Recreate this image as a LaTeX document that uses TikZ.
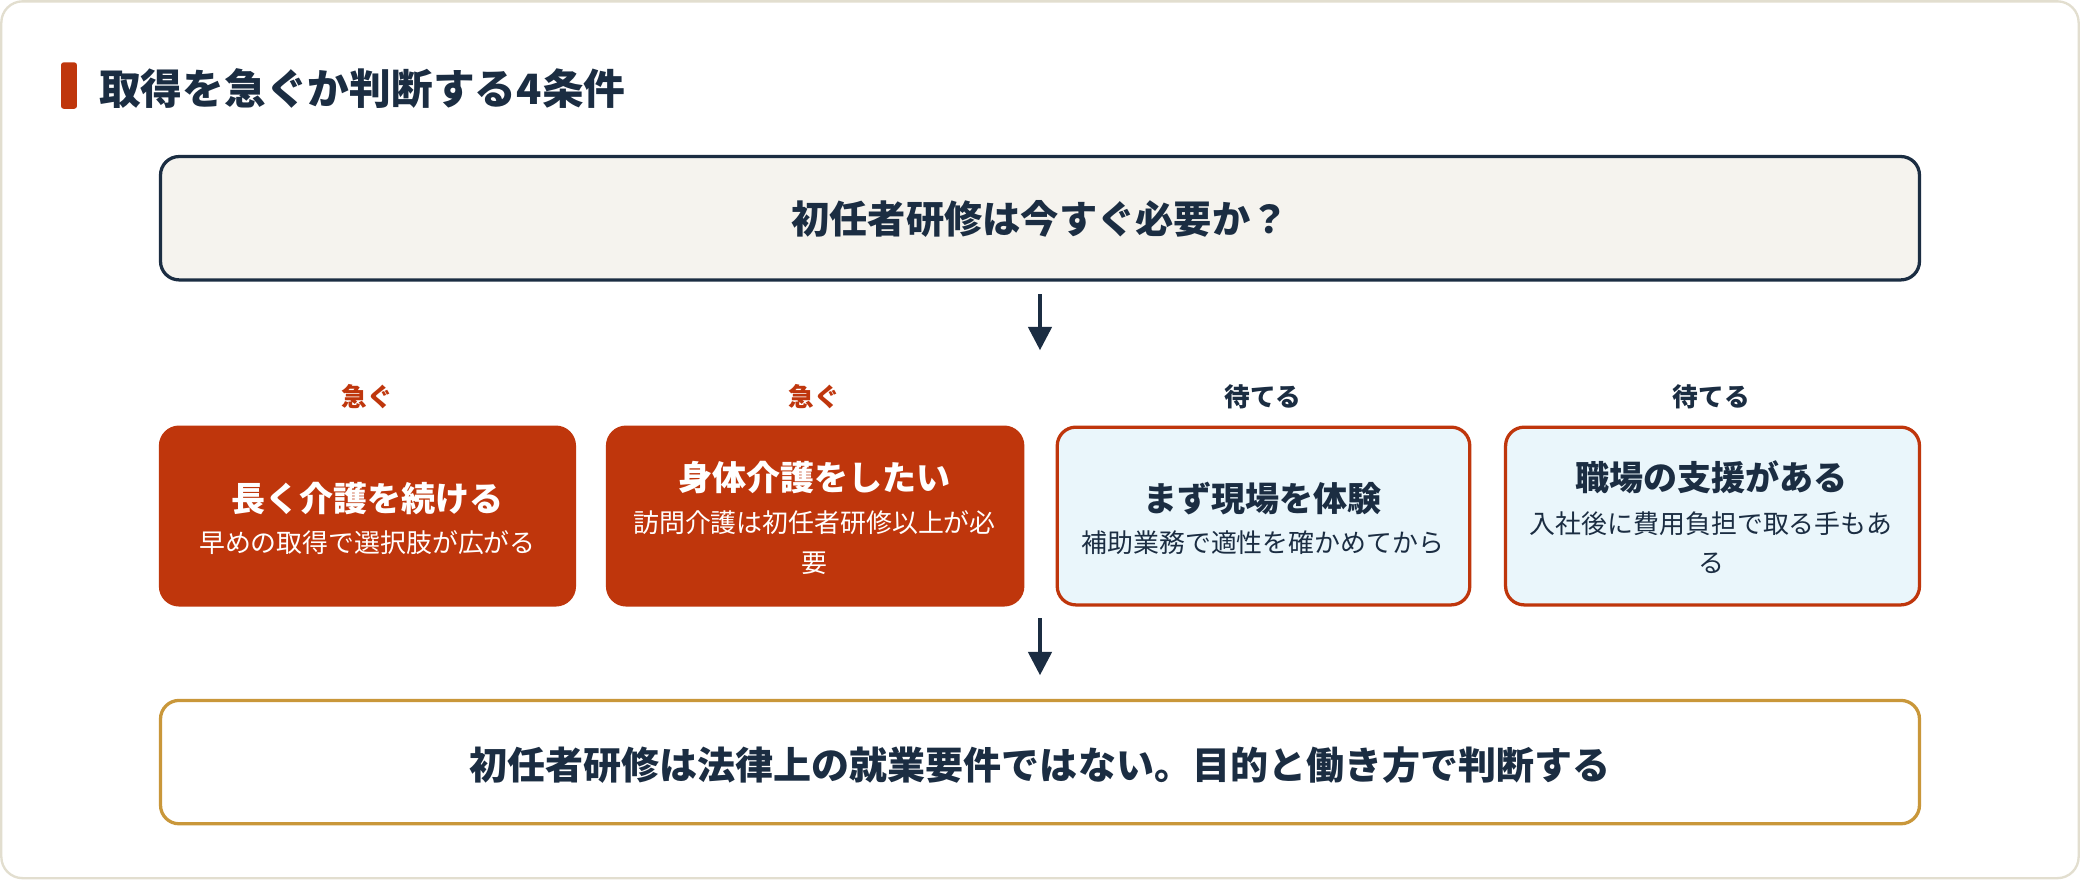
\documentclass[tikz,border=0pt]{standalone}
\usepackage{fontspec}
\setmainfont{Noto Sans CJK JP}
\usetikzlibrary{arrows.meta}
\definecolor{navy}{HTML}{1B2D42}
\definecolor{rust}{HTML}{BF360C}
\definecolor{gold}{HTML}{C9973A}
\definecolor{cream}{HTML}{F5F3EE}
\definecolor{ice}{HTML}{EAF6FB}
\definecolor{frame}{HTML}{E2DECF}
\begin{document}
\begin{tikzpicture}[x=0.01cm,y=-0.01cm,
  box/.style={rounded corners=0.14cm,line width=0.7pt},
  hot/.style={box,fill=rust,draw=rust},
  wait/.style={box,fill=ice,draw=rust},
  ttl/.style={font=\bfseries\fontsize{7.3}{8}\selectfont,align=center},
  sub/.style={font=\fontsize{5.55}{8.5}\selectfont,align=center,text width=3.0cm},
  lab/.style={font=\bfseries\fontsize{5.5}{6}\selectfont},
  arr/.style={navy,line width=0.8pt,-{Triangle[width=5pt,length=5pt]}}]
\useasboundingbox (0,0) rectangle (1568,663);
\draw[frame,line width=0.5pt,fill=white,rounded corners=0.16cm] (1,1) rectangle (1567,662);
\fill[rust,rounded corners=0.02cm] (46,47) rectangle (58,82);
\node[anchor=west,inner sep=0pt,navy,font=\bfseries\fontsize{8.95}{10}\selectfont] (title) at (74,67) {取得を急ぐか判断する4条件};
\draw[box,fill=cream,draw=navy] (121,118) rectangle (1447,211);
\node[navy,font=\bfseries\fontsize{8.2}{9}\selectfont] (q) at (784,165) {初任者研修は今すぐ必要か？};
\coordinate (a1s) at (784,222); \coordinate (a1e) at (784,264);
\draw[arr] (a1s) -- (a1e);
\node[lab,rust] (l1) at (277,299) {急ぐ};
\node[lab,rust] (l2) at (614,299) {急ぐ};
\node[lab,navy] (l3) at (952,299) {待てる};
\node[lab,navy] (l4) at (1290,299) {待てる};
\draw[hot] (121,322) rectangle (433,456);
\draw[hot] (458,322) rectangle (771,456);
\draw[wait] (797,322) rectangle (1108,456);
\draw[wait] (1135,322) rectangle (1447,456);
\node[ttl,white] (t1) at (277,376) {長く介護を続ける};
\node[sub,white] (s1) at (277,409) {早めの取得で選択肢が広がる};
\node[ttl,white] (t2) at (614,360) {身体介護をしたい};
\node[sub,white] (s2) at (614,409) {訪問介護は初任者研修以上が必\\要};
\node[ttl,navy] (t3) at (952,376) {まず現場を体験};
\node[sub,navy] (s3) at (952,409) {補助業務で適性を確かめてから};
\node[ttl,navy] (t4) at (1290,360) {職場の支援がある};
\node[sub,navy] (s4) at (1290,409) {入社後に費用負担で取る手もあ\\る};
\coordinate (a2s) at (784,466); \coordinate (a2e) at (784,509);
\draw[arr] (a2s) -- (a2e);
\draw[box,fill=white,draw=gold] (121,528) rectangle (1447,621);
\node[navy,font=\bfseries\fontsize{8.15}{9}\selectfont] (c) at (784,577) {初任者研修は法律上の就業要件ではない。目的と働き方で判断する};
\end{tikzpicture}
\end{document}
